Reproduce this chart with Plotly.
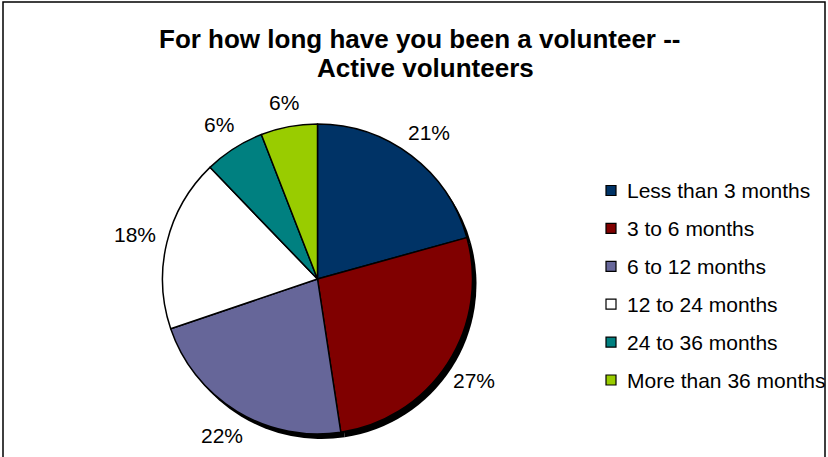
import math
import plotly.graph_objects as go

categories = ["Less than 3 months", "3 to 6 months", "6 to 12 months",
              "12 to 24 months", "24 to 36 months", "More than 36 months"]
# shares; labels show them rounded (21, 27, 22, 18, 6, 6)
shares = [20.7, 26.9, 22.2, 18.0, 6.3, 5.9]
colors = ["#003366", "#800000", "#666699", "#FFFFFF", "#008080", "#99CC00"]

W, H = 828, 457
FONT = "Liberation Sans, Arial, sans-serif"

def px(x):
    return x / W

def py(y):
    return 1 - y / H

# pie geometry (pixels)
cx, cy, r = 317.5, 279, 155
shx, shy = 4, 5  # shadow offset

fig = go.Figure()

# drop shadow
fig.add_trace(go.Pie(values=shares, labels=categories, sort=False, direction="clockwise",
                     marker=dict(colors=["#000000"] * len(shares), line=dict(width=0)),
                     textinfo="none", hoverinfo="skip", showlegend=False,
                     domain=dict(x=[px(cx - r + shx), px(cx + r + shx)],
                                 y=[py(cy + r + shy), py(cy - r + shy)])))

fig.add_trace(go.Pie(values=shares, labels=categories, sort=False, direction="clockwise",
                     marker=dict(colors=colors, line=dict(color="black", width=1.5)),
                     textinfo="none", showlegend=False,
                     domain=dict(x=[px(cx - r), px(cx + r)],
                                 y=[py(cy + r), py(cy - r)])))

# percentage labels outside the slices
total = sum(shares)
cum = 0
for v in shares:
    mid = (cum + v / 2) / total * 2 * math.pi
    cum += v
    lr = 178 + 10 * abs(math.sin(mid))
    lx = cx + lr * math.sin(mid)
    ly = cy - lr * math.cos(mid)
    fig.add_annotation(x=px(lx), y=py(ly), xref="paper", yref="paper",
                       text=f"{round(v / total * 100)}%", showarrow=False,
                       xanchor="center", yanchor="middle",
                       font=dict(family=FONT, size=21, color="black"))

# legend
ly0, lstep = 190.5, 37.9
for i, (name, c) in enumerate(zip(categories, colors)):
    y = ly0 + i * lstep
    fig.add_shape(type="rect", xref="paper", yref="paper",
                  x0=px(606), x1=px(616), y0=py(y + 5), y1=py(y - 5),
                  fillcolor=c, line=dict(color="black", width=1.2))
    fig.add_annotation(x=px(625), y=py(y), xref="paper", yref="paper",
                       text=name, showarrow=False, xanchor="left", yanchor="middle",
                       font=dict(family=FONT, size=21, color="black"))

# title
fig.add_annotation(x=px(419.5), y=py(39), xref="paper", yref="paper",
                   text="<b>For how long have you been a volunteer --</b>",
                   showarrow=False, xanchor="center", yanchor="middle",
                   font=dict(family=FONT, size=26, color="black"))
fig.add_annotation(x=px(426), y=py(68.5), xref="paper", yref="paper",
                   text="<b>Active volunteers</b>",
                   showarrow=False, xanchor="center", yanchor="middle",
                   font=dict(family=FONT, size=26, color="black"))

# chart frame
fig.add_shape(type="rect", xref="paper", yref="paper",
              x0=px(3), x1=px(825), y0=py(480), y1=py(2),
              line=dict(color="black", width=1.5), fillcolor="rgba(0,0,0,0)")

fig.update_layout(width=W, height=H, margin=dict(l=0, r=0, t=0, b=0),
                  paper_bgcolor="white", plot_bgcolor="white")

fig.write_html("out.html", config={"displayModeBar": False},
               post_script="document.body.style.margin='0';")
